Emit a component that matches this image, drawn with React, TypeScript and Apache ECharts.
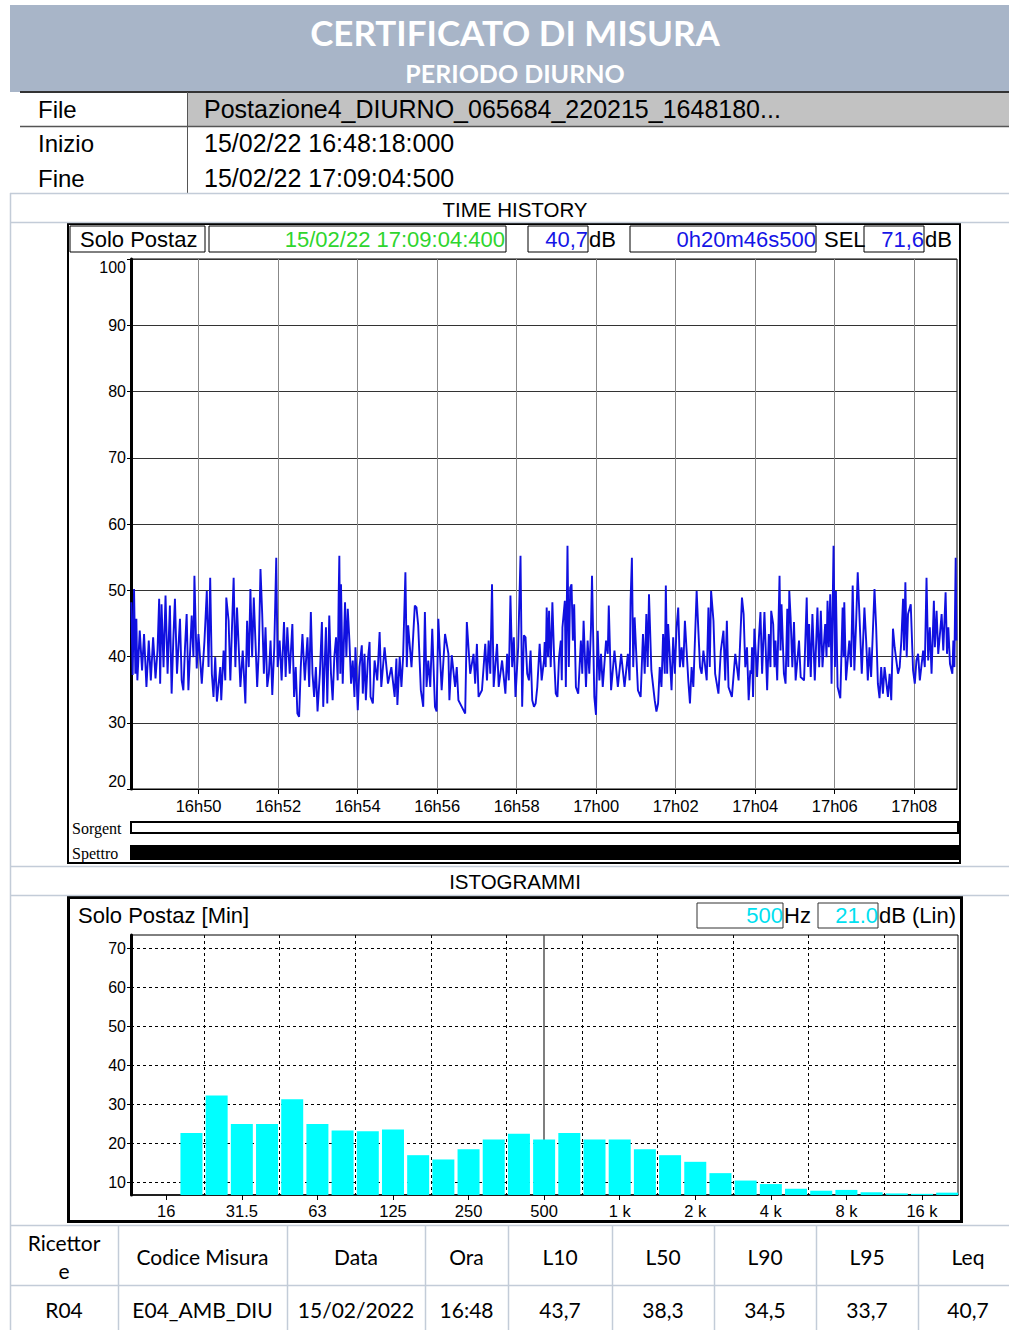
import React, { useEffect, useRef } from "react";
import * as echarts from "echarts";

const W = 1009;
const H = 1330;

// ---------- header texts ----------
const TITLE = "CERTIFICATO DI MISURA";
const SUBTITLE = "PERIODO DIURNO";
const INFO_LABELS = ["File", "Inizio", "Fine"];
const INFO_VALUES = ["Postazione4_DIURNO_065684_220215_1648180...", "15/02/22 16:48:18:000", "15/02/22 17:09:04:500"];

// ---------- time history ----------
// x values: seconds since 16:48:00 ; trace times below are seconds since start (16:48:18)
const START_S = 18;
const END_S = 1264.5;
const TIME_TICKS_S = [120, 240, 360, 480, 600, 720, 840, 960, 1080, 1200];
const TH_Y_MIN = 20;
const TH_Y_MAX = 100;
const TH_BAR = { name: "Solo Postaz", cursor: "15/02/22 17:09:04:400", level: "40,7", duration: "0h20m46s500", sel: "71,6" };

const TRACE_A: number[][] = [[0.5,48.2],[2.5,37.2],[4.6,50.2],[6.6,37.4],[8.1,45.7],[9.6,36.4],[13.2,43.9],[16.7,37.9],[19.7,43.4],[23.3,35.4],[26.8,42.4],[29.9,36.4],[33.4,42.9],[37.0,36.7],[40.0,40.9],[42.5,48.7],[44.0,35.9],[46.1,47.9],[49.1,38.4],[52.1,49.2],[55.2,37.4],[58.7,47.7],[61.3,34.4],[63.8,42.4],[66.3,48.7],[69.4,37.4],[73.9,45.7],[76.5,36.4],[79.0,34.9],[81.5,41.4],[84.0,46.4],[86.6,34.9],[91.6,46.2],[94.2,39.9],[95.7,52.2],[99.2,38.2],[101.8,43.4],[106.8,35.9],[110.9,42.4],[114.4,49.9],[117.0,38.4],[119.5,51.9],[122.0,37.4],[124.5,33.9],[127.1,39.9],[129.6,33.2],[134.7,38.4],[136.2,33.4],[139.7,40.9],[142.3,36.4],[143.8,48.9],[147.3,45.4],[149.9,36.4],[152.4,44.4],[154.9,51.9],[157.5,38.4],[160.0,47.4],[165.1,35.4],[168.6,40.9],[172.6,32.9],[175.2,45.4],[177.7,38.4],[180.2,50.2],[182.8,39.9],[185.3,48.9],[190.4,35.4],[192.9,40.9],[195.4,53.2],[198.0,46.4],[200.5,37.4],[203.0,44.4],[205.6,35.4],[208.1,37.4],[210.6,42.4],[213.2,34.2],[216.2,41.4],[219.2,54.9],[221.3,38.4],[224.3,42.4],[227.3,36.4],[230.9,45.2],[233.4,36.9],[235.9,44.4],[239.5,37.4],[243.5,44.9],[246.1,33.9],[248.6,38.4],[251.1,31.4],[253.7,30.9],[256.2,38.4],[258.7,43.4],[262.3,36.4],[266.3,42.9],[268.9,35.4],[271.4,46.7],[273.9,37.4],[276.4,33.9],[279.0,38.4],[281.5,31.7],[285.0,37.4],[288.1,45.2],[290.1,32.4],[294.2,44.4],[296.2,32.9],[299.2,46.2],[301.8,37.4],[304.3,33.4],[306.8,39.9],[309.4,42.9],[311.9,36.4]];
const TRACE_B: number[][] = [[313.4,49.2],[314.4,55.2],[315.9,37.4],[316.9,50.9],[319.5,35.9],[323.0,48.2],[325.0,39.9],[327.1,47.2],[329.6,42.4],[332.1,35.9],[334.6,39.4],[337.2,33.9],[338.7,41.4],[342.2,31.9],[344.8,38.4],[348.3,41.7],[349.8,34.4],[352.4,40.4],[354.4,33.4],[357.4,39.4],[360.0,42.2],[361.5,33.9],[365.0,32.9],[367.6,39.4],[371.6,36.4],[375.2,43.7],[377.7,35.4],[382.7,41.4],[387.8,35.9],[392.9,38.4],[397.9,33.9],[400.5,39.7],[402.0,32.7],[405.5,39.9],[408.1,35.4],[410.6,39.9],[414.1,52.7],[416.2,38.4],[418.2,44.7],[423.3,38.4],[428.3,47.7],[430.8,47.4],[433.4,44.7],[437.4,34.9],[441.0,32.4],[443.5,46.7],[446.0,35.4],[448.6,39.4],[451.6,35.4],[454.6,44.2],[458.7,32.4],[461.2,31.7],[463.8,45.7],[468.8,34.9],[473.9,43.4],[479.0,40.4],[480.5,33.4],[484.0,40.2],[489.1,35.4],[491.6,38.4],[494.1,33.4],[499.2,32.4],[504.3,31.4],[506.8,45.2],[511.9,37.4],[516.9,40.4],[519.4,35.9],[522.0,41.9],[524.5,33.9],[529.6,34.9],[534.6,41.9],[537.2,36.4],[539.7,42.4],[542.2,37.4],[544.8,50.9],[547.3,35.4],[552.4,41.9],[554.9,35.4],[560.0,39.4],[565.0,34.4],[567.6,40.4],[570.1,36.4],[572.6,49.2],[575.2,38.4],[577.7,42.9],[580.2,33.9],[584.3,41.4],[587.8,55.2],[590.3,32.4],[592.9,43.2],[595.4,42.9],[597.9,37.4],[600.5,36.4],[603.0,40.9],[605.5,33.4],[608.1,32.4],[610.6,32.9],[613.1,35.4],[616.7,41.9],[619.7,36.4],[623.2,39.4]];
const TRACE_C: number[][] = [[624.3,42.2],[625.8,38.4],[627.3,47.4],[629.3,39.9],[630.9,46.9],[633.4,38.4],[635.9,48.2],[638.5,39.9],[641.0,34.4],[643.5,33.9],[646.0,39.9],[648.6,42.4],[650.1,36.4],[651.1,44.4],[654.7,48.4],[656.2,35.4],[658.7,56.7],[660.7,38.4],[662.8,50.4],[664.8,50.9],[666.8,42.4],[668.8,47.9],[671.4,35.4],[674.9,34.4],[678.9,42.4],[681.0,37.4],[683.0,45.4],[686.6,35.4],[689.1,42.4],[691.6,37.4],[694.1,44.2],[695.7,52.2],[699.2,33.9],[701.7,31.2],[704.3,43.9],[706.8,36.4],[709.3,40.4],[711.9,35.4],[716.9,42.4],[719.5,40.4],[721.0,47.7],[724.5,34.9],[729.6,40.9],[734.7,35.4],[739.7,40.4],[744.8,35.4],[749.8,40.4],[752.4,36.4],[753.9,48.4],[755.9,54.9],[757.9,38.4],[760.0,45.9],[765.0,34.9],[769.1,33.9],[772.6,43.4],[775.2,37.4],[777.7,46.4],[779.7,38.4],[781.7,49.4],[785.3,37.9],[790.3,33.4],[792.9,31.7],[795.4,32.9],[797.9,38.4],[800.5,35.4],[803.0,43.4],[805.5,37.4],[807.1,50.7],[809.1,37.4],[810.6,44.9],[815.7,34.9],[818.2,42.9],[820.7,37.4],[823.3,44.4],[825.8,47.4],[828.3,38.4],[830.9,41.4],[833.4,38.4],[835.9,45.4],[841.0,36.4],[843.5,32.9],[846.0,38.4],[848.6,35.4],[853.6,49.9],[856.2,43.9],[858.7,38.4],[861.2,37.4],[863.8,40.9],[868.8,36.4],[871.4,47.4],[873.4,38.4],[875.4,49.9],[879.0,45.4],[881.5,37.4],[886.5,34.4],[890.1,40.9],[894.1,43.9],[896.7,36.4],[899.2,45.4],[901.7,35.4],[906.8,33.9],[911.9,40.4],[916.9,36.4],[922.0,48.9],[924.5,46.4],[927.0,38.4],[929.6,41.4],[932.1,33.4],[934.6,37.9]];
const TRACE_D: number[][] = [[936.2,37.4],[937.2,41.4],[938.7,33.9],[940.7,44.2],[944.8,36.9],[947.3,42.4],[949.9,46.7],[952.4,37.4],[955.9,46.7],[960.0,34.9],[962.5,43.4],[965.0,38.4],[966.1,46.9],[969.1,44.9],[971.1,38.4],[972.6,42.4],[975.2,36.4],[978.7,52.2],[980.2,40.9],[981.7,47.9],[985.3,37.4],[987.8,35.9],[990.4,47.2],[991.9,38.4],[993.4,49.9],[995.4,45.9],[998.0,38.4],[1000.5,45.2],[1003.0,36.4],[1008.1,42.4],[1010.6,36.9],[1015.7,36.4],[1019.7,48.9],[1021.7,38.4],[1023.3,44.9],[1025.8,36.9],[1028.3,46.4],[1031.9,36.4],[1035.9,47.4],[1038.5,38.4],[1041.0,46.9],[1043.5,38.4],[1047.6,44.9],[1049.6,39.9],[1051.1,48.4],[1053.1,41.4],[1055.2,49.4],[1057.2,35.9],[1060.2,56.7],[1062.3,38.4],[1063.8,49.9],[1066.3,35.4],[1070.4,33.7],[1073.9,47.4],[1075.4,39.9],[1076.4,48.2],[1079.0,36.4],[1084.0,42.4],[1086.6,38.4],[1089.1,50.7],[1091.6,37.9],[1094.2,44.9],[1096.7,52.7],[1099.2,46.4],[1102.8,37.4],[1106.8,47.4],[1109.4,42.4],[1111.9,36.4],[1114.4,41.4],[1116.9,36.9],[1122.0,50.2],[1124.5,44.4],[1127.1,35.9],[1129.6,33.7],[1132.1,38.4],[1134.7,34.4],[1137.2,38.4],[1142.3,33.9],[1144.8,37.4],[1147.3,33.4],[1149.9,44.2],[1152.4,41.4],[1157.5,37.4],[1160.0,38.4],[1162.5,42.4],[1165.1,48.7],[1166.6,40.9],[1168.6,51.2],[1170.6,39.9],[1172.6,46.4],[1176.7,47.9],[1180.2,37.9],[1182.8,35.9],[1185.3,39.4],[1187.8,40.4],[1190.4,36.4],[1195.4,40.9],[1197.9,38.4],[1200.5,51.9],[1203.0,39.4],[1205.5,44.4],[1208.1,37.4],[1211.6,48.4],[1213.1,41.4],[1215.7,46.9],[1218.2,40.4],[1223.3,46.4],[1225.8,40.9],[1229.3,49.7],[1231.4,40.4],[1233.4,44.4],[1235.9,38.9],[1239.5,37.4],[1241.0,42.4],[1242.5,38.4],[1244.5,54.9],[1245.6,42.4]];

// ---------- histogram (1/3 octave, index 0 = 16 Hz) ----------
const BANDS = ["16", "20", "25", "31.5", "40", "50", "63", "80", "100", "125", "160", "200", "250", "315", "400", "500", "630", "800", "1 k", "1.25 k", "1.6 k", "2 k", "2.5 k", "3.15 k", "4 k", "5 k", "6.3 k", "8 k", "10 k", "12.5 k", "16 k", "20 k"];
const BAND_LEVELS: (number | null)[] = [null, 22.7, 32.3, 25.0, 25.0, 31.3, 25.0, 23.3, 23.1, 23.6, 17.0, 15.9, 18.5, 21.0, 22.5, 21.0, 22.7, 21.0, 21.0, 18.5, 17.0, 15.3, 12.4, 10.5, 9.6, 8.4, 7.9, 8.1, 7.5, 7.2, 7.1, 7.4];
const BAND_LABEL_IDX = [0, 3, 6, 9, 12, 15, 18, 21, 24, 27, 30];
const BAND_GRID_IDX = [1.5, 4.5, 7.5, 10.5, 13.5, 16.5, 19.5, 22.5, 25.5, 28.5];
const HIST_Y_TICKS = [10, 20, 30, 40, 50, 60, 70];
const HIST_X_MIN = -1.4;
const HIST_X_MAX = 31.43;
const HIST_Y_MIN = 6.8;
const HIST_Y_MAX = 73.4;
const HIST_CURSOR_IDX = 15;
const HIST_BAR = { name: "Solo Postaz [Min]", freq: "500", level: "21.0" };

// ---------- bottom table ----------
const TABLE_HEAD = ["Ricettor\ne", "Codice Misura", "Data", "Ora", "L10", "L50", "L90", "L95", "Leq"];
const TABLE_ROW = ["R04", "E04_AMB_DIU", "15/02/2022", "16:48", "43,7", "38,3", "34,5", "33,7", "40,7"];
const TABLE_COLS = [10, 118, 287, 425, 508, 612, 714, 816, 918, 1018];

const SANS = '"Liberation Sans", Arial, sans-serif';
const CAL = 'Lato, "Open Sans", sans-serif';
const SERIF = '"Liberation Serif", "DejaVu Serif", serif';
const LIGHT = "#c3ccd8";

function txt(x: number, y: number, text: string, o: any = {}) {
  return {
    type: "text",
    x,
    y,
    z: 50,
    style: {
      text,
      fill: o.fill || "#000",
      fontSize: o.size || 20,
      fontFamily: o.family || SANS,
      fontWeight: o.weight || "normal",
      align: o.align || "left",
      verticalAlign: "middle",
      lineHeight: o.lineHeight,
    },
  };
}
function ln(x1: number, y1: number, x2: number, y2: number, stroke: string, lineWidth = 1) {
  return { type: "line", z: 40, shape: { x1, y1, x2, y2 }, style: { stroke, lineWidth } };
}
function box(x: number, y: number, w: number, h: number, fill: string, stroke: string | null, lineWidth = 1, z = 30) {
  return { type: "rect", z, shape: { x, y, width: w, height: h }, style: { fill, stroke: stroke || "none", lineWidth } };
}

function timeLabel(v: number) {
  const totalMin = 48 + Math.round(v / 60);
  const h = 16 + Math.floor(totalMin / 60);
  const m = totalMin % 60;
  return `${h}h${String(m).padStart(2, "0")}`;
}

export default function App() {
  const ref = useRef<HTMLDivElement>(null);
  useEffect(() => {
    if (!ref.current) return;
    const chart = echarts.init(ref.current, undefined, { renderer: "svg", width: W, height: H });

    const trace = [...TRACE_A, ...TRACE_B, ...TRACE_C, ...TRACE_D].map((p) => [START_S + p[0], p[1]]);
    const bars = BAND_LEVELS.map((v, i) => (v == null ? null : [i, v])).filter((d) => d !== null);

    const g: any[] = [];
    // header band
    g.push(box(10, 5, 999, 87, "#a8b5c8", null, 0, 10));
    g.push(txt(515, 32, TITLE, { fill: "#fff", size: 35, family: CAL, align: "center", weight: "bold" }));
    g.push(txt(515, 73, SUBTITLE, { fill: "#fff", size: 25, family: CAL, align: "center", weight: "bold" }));
    // info table
    g.push(box(187, 93, 822, 33, "#c2c2c2", null, 0, 10));
    g.push(ln(20, 92, 1009, 92, "#333", 2));
    g.push(ln(20, 126.5, 1009, 126.5, "#555", 1.5));
    g.push(ln(187.5, 92, 187.5, 193, "#555", 1));
    const rowsY = [109, 143, 178];
    INFO_LABELS.forEach((l, i) => g.push(txt(38, rowsY[i], l, { size: 24 })));
    INFO_VALUES.forEach((l, i) => g.push(txt(204, rowsY[i], l, { size: 25 })));
    g.push(ln(10, 193.5, 1009, 193.5, LIGHT, 1.5));
    g.push(ln(10.5, 193, 10.5, 1330, LIGHT, 1.5));
    // TIME HISTORY section
    g.push(txt(515, 209, "TIME HISTORY", { size: 20.5, align: "center" }));
    g.push(ln(10, 222.5, 1009, 222.5, LIGHT, 1.5));
    g.push(box(68, 224, 892, 639, "none", "#000", 2, 20));
    // top bar boxes
    g.push(box(70, 226, 135, 26, "#fff", "#000", 1));
    g.push(txt(80, 239, TH_BAR.name, { size: 22 }));
    g.push(box(209, 226, 297, 26, "#fff", "#000", 1));
    g.push(txt(505, 239, TH_BAR.cursor, { size: 22, align: "right", fill: "#2ed52e" }));
    g.push(box(528, 226, 60, 26, "#fff", "#000", 1));
    g.push(txt(588, 239, TH_BAR.level, { size: 22, align: "right", fill: "#1515e6" }));
    g.push(txt(589, 239, "dB", { size: 22 }));
    g.push(box(630, 226, 186, 26, "#fff", "#000", 1));
    g.push(txt(816, 239, TH_BAR.duration, { size: 22, align: "right", fill: "#1515e6" }));
    g.push(txt(824, 239, "SEL", { size: 22 }));
    g.push(box(864, 226, 60, 26, "#fff", "#000", 1));
    g.push(txt(924, 239, TH_BAR.sel, { size: 22, align: "right", fill: "#1515e6" }));
    g.push(txt(925, 239, "dB", { size: 22 }));
    // Sorgenti / Spettro bars
    g.push(txt(72, 828, "Sorgent", { size: 16, family: SERIF }));
    g.push(box(131, 822, 827, 11, "#fff", "#000", 2));
    g.push(txt(72, 853, "Spettro", { size: 16, family: SERIF }));
    g.push(box(130, 845, 830, 15, "#000", null, 0));
    // ISTOGRAMMI section
    g.push(ln(10, 866.5, 1009, 866.5, LIGHT, 1.5));
    g.push(txt(515, 881, "ISTOGRAMMI", { size: 20.5, align: "center" }));
    g.push(ln(10, 895.5, 1009, 895.5, LIGHT, 1.5));
    g.push(box(68.5, 897.5, 893, 324, "none", "#000", 3, 20));
    g.push(txt(78, 915, HIST_BAR.name, { size: 22 }));
    g.push(box(697, 903, 86, 25, "#fff", "#333", 1));
    g.push(txt(783, 915.5, HIST_BAR.freq, { size: 22, align: "right", fill: "#00e0f0" }));
    g.push(txt(784, 915.5, "Hz", { size: 22 }));
    g.push(box(818, 903, 60, 25, "#fff", "#333", 1));
    g.push(txt(878, 915.5, HIST_BAR.level, { size: 22, align: "right", fill: "#00e0f0" }));
    g.push(txt(879, 915.5, "dB (Lin)", { size: 22 }));
    // bottom table
    g.push(ln(10, 1225.5, 1009, 1225.5, LIGHT, 1.5));
    g.push(ln(10, 1285.5, 1009, 1285.5, LIGHT, 1.5));
    TABLE_COLS.slice(1, -1).forEach((x) => g.push(ln(x + 0.5, 1225, x + 0.5, 1330, LIGHT, 1.5)));
    TABLE_HEAD.forEach((h, i) => {
      const cx = (TABLE_COLS[i] + TABLE_COLS[i + 1]) / 2;
      g.push(txt(cx, 1256, h, { size: 21, family: CAL, align: "center", lineHeight: 28 }));
      g.push(txt(cx, 1309, TABLE_ROW[i], { size: 21, family: CAL, align: "center" }));
    });

    chart.setOption({
      animation: false,
      backgroundColor: "#fff",
      grid: [
        { left: 131, top: 259, width: 826, height: 530, show: true, borderColor: "#000", borderWidth: 1, backgroundColor: "#fff" },
        { left: 131, top: 935, width: 827, height: 260, show: true, borderColor: "#000", borderWidth: 1, backgroundColor: "#fff" },
      ],
      xAxis: [
        {
          gridIndex: 0, type: "value", min: START_S, max: END_S,
          axisLine: { show: true, onZero: false, lineStyle: { color: "#000", width: 1 } },
          axisTick: { show: true, customValues: TIME_TICKS_S, length: 5, lineStyle: { color: "#000" } },
          axisLabel: { customValues: TIME_TICKS_S, formatter: timeLabel, color: "#000", fontSize: 16.5, fontFamily: SANS, margin: 8 },
          splitLine: { show: true, lineStyle: { color: "#888", width: 1 } },
        },
        {
          gridIndex: 1, type: "value", min: HIST_X_MIN, max: HIST_X_MAX,
          axisLine: { show: true, onZero: false, lineStyle: { color: "#000", width: 1.5 } },
          axisTick: { show: true, customValues: BAND_LABEL_IDX, length: 5, lineStyle: { color: "#000" } },
          axisLabel: { customValues: BAND_LABEL_IDX, formatter: (v: number) => BANDS[Math.round(v)], color: "#000", fontSize: 16.5, fontFamily: SANS, margin: 7 },
          splitLine: { show: false },
        },
        {
          gridIndex: 1, type: "value", min: HIST_X_MIN, max: HIST_X_MAX,
          axisLine: { show: false },
          axisTick: { show: false, customValues: BAND_GRID_IDX },
          axisLabel: { show: false, customValues: BAND_GRID_IDX },
          splitLine: { show: true, lineStyle: { color: "#000", type: [3, 3], width: 1 } },
        },
      ],
      yAxis: [
        {
          gridIndex: 0, type: "value", min: TH_Y_MIN, max: TH_Y_MAX, interval: 10,
          axisLine: { show: true, onZero: false, lineStyle: { color: "#000", width: 3 } },
          axisTick: { show: true, length: 4, lineStyle: { color: "#000" } },
          axisLabel: { color: "#000", fontSize: 16, fontFamily: SANS, margin: 5, verticalAlignMaxLabel: "top", verticalAlignMinLabel: "bottom" },
          splitLine: { show: true, lineStyle: { color: "#333", width: 1 } },
        },
        {
          gridIndex: 1, type: "value", min: HIST_Y_MIN, max: HIST_Y_MAX,
          axisLine: { show: true, onZero: false, lineStyle: { color: "#000", width: 3 } },
          axisTick: { show: true, customValues: HIST_Y_TICKS, length: 4, lineStyle: { color: "#000" } },
          axisLabel: { customValues: HIST_Y_TICKS, color: "#000", fontSize: 16, fontFamily: SANS, margin: 5 },
          splitLine: { show: true, lineStyle: { color: "#000", type: [3, 3], width: 1 } },
        },
      ],
      series: [
        {
          type: "line", xAxisIndex: 0, yAxisIndex: 0, data: trace, showSymbol: false, symbol: "none",
          lineStyle: { color: "#1010e0", width: 1.9, join: "miter", miterLimit: 2 }, z: 5, silent: true,
        },
        {
          type: "bar", xAxisIndex: 1, yAxisIndex: 1, data: bars, barWidth: 22,
          itemStyle: { color: "#00ffff" }, silent: true, z: 5,
          markLine: {
            symbol: "none", silent: true, label: { show: false },
            lineStyle: { color: "#555", type: "solid", width: 1.5 },
            data: [{ xAxis: HIST_CURSOR_IDX }],
          },
        },
      ],
      graphic: g,
    });
    return () => chart.dispose();
  }, []);
  return <div ref={ref} style={{ position: "absolute", left: 0, top: 0, width: W, height: H, background: "#fff" }} />;
}
